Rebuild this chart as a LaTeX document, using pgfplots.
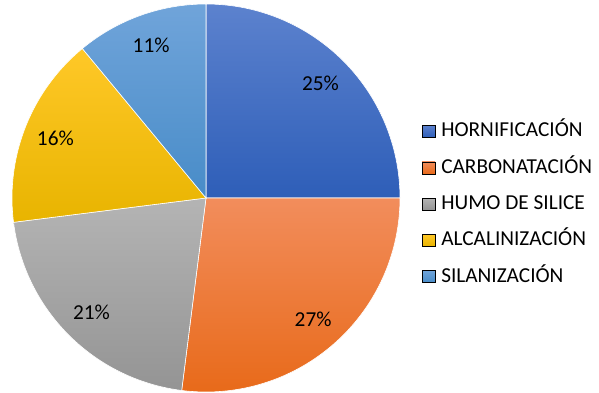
\documentclass[border=0pt]{standalone}
\usepackage{fontspec}
\setmainfont{Carlito}
\usepackage{pgfplots}
\pgfplotsset{compat=1.18}
\definecolor{bAt}{RGB}{92,130,206}\definecolor{bAb}{RGB}{46,94,184}
\definecolor{bBt}{RGB}{242,141,92}\definecolor{bBb}{RGB}{232,106,26}
\definecolor{bCt}{RGB}{180,180,180}\definecolor{bCb}{RGB}{148,148,148}
\definecolor{bDt}{RGB}{255,200,40}\definecolor{bDb}{RGB}{232,180,0}
\definecolor{bEt}{RGB}{112,164,218}\definecolor{bEb}{RGB}{72,140,200}
% data (percent)
\def\vA{25}\def\vB{27}\def\vC{21}\def\vD{16}\def\vE{11}
\pgfmathsetmacro\aA{90}
\pgfmathsetmacro\aB{\aA-3.6*\vA}
\pgfmathsetmacro\aC{\aB-3.6*\vB}
\pgfmathsetmacro\aD{\aC-3.6*\vC}
\pgfmathsetmacro\aE{\aD-3.6*\vD}
\pgfmathsetmacro\aF{\aE-3.6*\vE}
\pgfmathsetmacro\mA{(\aA+\aB)/2}
\pgfmathsetmacro\mB{(\aB+\aC)/2}
\pgfmathsetmacro\mC{(\aC+\aD)/2}
\pgfmathsetmacro\mD{(\aD+\aE)/2}
\pgfmathsetmacro\mE{(\aE+\aF)/2}
\def\cx{206}\def\cy{193}\def\R{194}\def\L{162}
\begin{document}
\begin{tikzpicture}
\begin{axis}[x=1bp,y=1bp,xmin=0,xmax=599,ymin=0,ymax=391,
  hide axis, scale only axis, clip=false,
  legend image code/.code={\path[#1] (0bp,-6bp) rectangle (13bp,6bp);},
  legend style={at={(axis cs:421.7,187)},anchor=west,draw=none,fill=none,
    inner sep=0pt, row sep=17.25bp, column sep=6bp,
    font=\fontsize{21.3bp}{24bp}\selectfont,
    nodes={inner sep=0pt,text height=15bp,text depth=4bp}},
  legend cell align=left]
\path (axis cs:0,0) rectangle (axis cs:599,391);
\addplot[forget plot,draw=white,line width=0.6bp,top color=bAt,bottom color=bAb,domain=\aB:\aA,samples=80] ({\cx+\R*cos(x)},{\cy+\R*sin(x)}) -- (axis cs:\cx,\cy) -- cycle;
\addplot[forget plot,draw=white,line width=0.6bp,top color=bBt,bottom color=bBb,domain=\aC:\aB,samples=80] ({\cx+\R*cos(x)},{\cy+\R*sin(x)}) -- (axis cs:\cx,\cy) -- cycle;
\addplot[forget plot,draw=white,line width=0.6bp,top color=bCt,bottom color=bCb,domain=\aD:\aC,samples=80] ({\cx+\R*cos(x)},{\cy+\R*sin(x)}) -- (axis cs:\cx,\cy) -- cycle;
\addplot[forget plot,draw=white,line width=0.6bp,top color=bDt,bottom color=bDb,domain=\aE:\aD,samples=80] ({\cx+\R*cos(x)},{\cy+\R*sin(x)}) -- (axis cs:\cx,\cy) -- cycle;
\addplot[forget plot,draw=white,line width=0.6bp,top color=bEt,bottom color=bEb,domain=\aF:\aE,samples=80] ({\cx+\R*cos(x)},{\cy+\R*sin(x)}) -- (axis cs:\cx,\cy) -- cycle;
\begin{scope}[every node/.style={font=\fontsize{21.3bp}{24bp}\selectfont,inner sep=0pt}]
\node at (axis cs:{\cx+\L*cos(\mA)},{\cy+\L*sin(\mA)}) {\vA\%};
\node at (axis cs:{\cx+\L*cos(\mB)},{\cy+\L*sin(\mB)}) {\vB\%};
\node at (axis cs:{\cx+\L*cos(\mC)},{\cy+\L*sin(\mC)}) {\vC\%};
\node at (axis cs:{\cx+\L*cos(\mD)},{\cy+\L*sin(\mD)}) {\vD\%};
\node at (axis cs:{\cx+\L*cos(\mE)},{\cy+\L*sin(\mE)}) {\vE\%};
\end{scope}
\addlegendimage{top color=bAt,bottom color=bAb}\addlegendentry{HORNIFICACIÓN}
\addlegendimage{top color=bBt,bottom color=bBb}\addlegendentry{CARBONATACIÓN}
\addlegendimage{top color=bCt,bottom color=bCb}\addlegendentry{HUMO DE SILICE}
\addlegendimage{top color=bDt,bottom color=bDb}\addlegendentry{ALCALINIZACIÓN}
\addlegendimage{top color=bEt,bottom color=bEb}\addlegendentry{SILANIZACIÓN}
\end{axis}
\end{tikzpicture}
\end{document}
